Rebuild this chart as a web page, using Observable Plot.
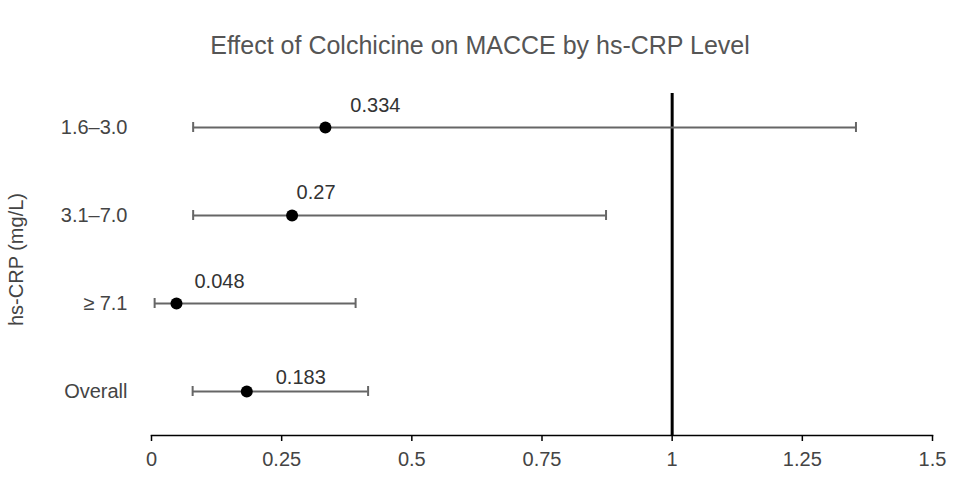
<!DOCTYPE html>
<html>
<head>
<meta charset="utf-8">
<script src="https://cdn.jsdelivr.net/npm/d3@7"></script>
<script src="https://cdn.jsdelivr.net/npm/@observablehq/plot@0.6"></script>
<style>
  body { margin: 0; background: #fff; font-family: "Liberation Sans", Arial, sans-serif; }
  #title { height: 80px; box-sizing: border-box; padding-top: 30px; line-height: 30px; text-align: center;
           font-size: 25px; color: #555; width: 954px; padding-left: 6px; }
</style>
</head>
<body>
<div id="title">Effect of Colchicine on MACCE by hs-CRP Level</div>
<div id="chart"></div>
<script>
const categories = ["1.6–3.0", "3.1–7.0", "≥ 7.1", "Overall"];
const estimates = [0.334, 0.27, 0.048, 0.183];
const lowerCI = [0.08, 0.08, 0.006, 0.079];
const upperCI = [1.353, 0.873, 0.392, 0.416];
const xTicks = [0, 0.25, 0.5, 0.75, 1, 1.25, 1.5];
const refValue = 1;
const yTitle = "hs-CRP (mg/L)";

const rows = categories.map((c, i) => ({cat: c, est: estimates[i], lo: lowerCI[i], hi: upperCI[i]}));

// label placement (style, not data)
const labelOffset = {"1.6–3.0": [50, -22], "3.1–7.0": [24, -23], "≥ 7.1": [43, -22], "Overall": [54, -14]};

const font = "Liberation Sans, Arial, sans-serif";
const barColor = "#666";

const chart = Plot.plot({
  width: 954,
  height: 405,
  marginLeft: 151,
  marginRight: 22,
  marginTop: 3,
  marginBottom: 50,
  style: {fontFamily: font, background: "white"},
  x: {domain: [0, 1.5]},
  y: {type: "band", domain: categories, padding: 0},
  marks: [
    Plot.frame({anchor: "bottom", stroke: "black", strokeWidth: 1.5}),
    Plot.axisX({ticks: xTicks, tickSize: 6, tickPadding: 10, tickFormat: d3.format("~g"),
      fontSize: 20, fill: "#444", stroke: "black", strokeWidth: 1.5, label: null}),
    Plot.axisY({tickSize: 0, tickPadding: 24, fontSize: 20, fill: "#444",
      label: yTitle, labelAnchor: "center", labelArrow: "none", labelOffset: 143}),
    Plot.ruleX([refValue], {stroke: "black", strokeWidth: 3, insetTop: 10}),
    Plot.ruleY(rows, {y: "cat", x1: "lo", x2: "hi", stroke: barColor, strokeWidth: 2}),
    Plot.tickX(rows, {x: "lo", y: "cat", stroke: barColor, strokeWidth: 2, insetTop: 39, insetBottom: 39}),
    Plot.tickX(rows, {x: "hi", y: "cat", stroke: barColor, strokeWidth: 2, insetTop: 39, insetBottom: 39}),
    Plot.dot(rows, {x: "est", y: "cat", r: 6, fill: "black"}),
    ...rows.map(r => Plot.text([r], {x: "est", y: "cat", text: d => String(d.est),
      dx: labelOffset[r.cat][0], dy: labelOffset[r.cat][1], fontSize: 20, fill: "#333"}))
  ]
});
document.getElementById("chart").appendChild(chart);
</script>
</body>
</html>
